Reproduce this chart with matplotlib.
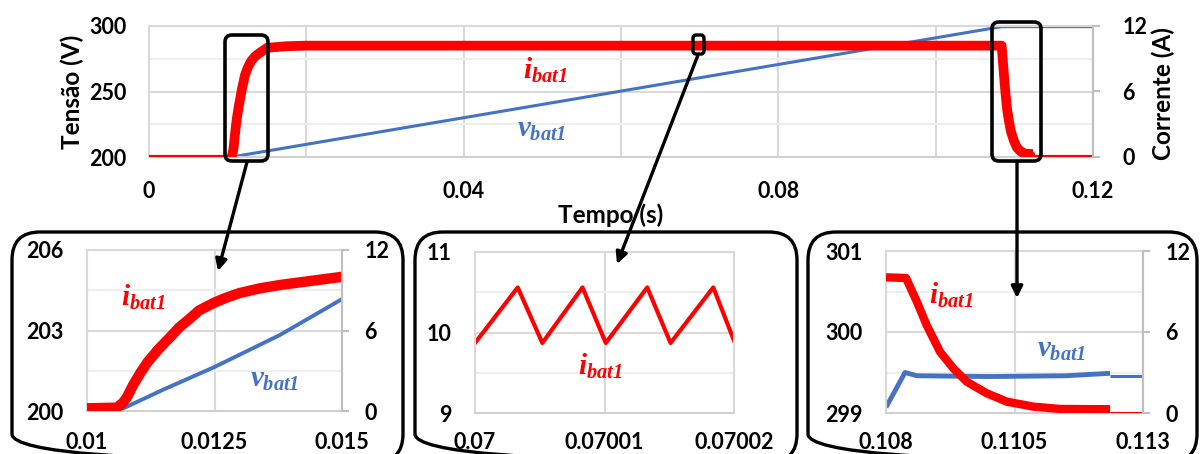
import matplotlib
matplotlib.use("Agg")
import matplotlib.pyplot as plt
from matplotlib.patches import FancyBboxPatch, FancyArrowPatch

plt.rcParams["font.family"] = ["Lato", "DejaVu Sans"]
plt.rcParams["font.weight"] = "bold"
plt.rcParams["mathtext.fontset"] = "custom"
plt.rcParams["mathtext.it"] = "Liberation Serif:italic:bold"
plt.rcParams["mathtext.rm"] = "Liberation Serif:italic:bold"
plt.rcParams["mathtext.bf"] = "Liberation Serif:italic:bold"

RED = "#FF0000"
BLUE = "#4472C4"
GRID = "#D9D9D9"
MINOR = "#EEEEEE"
AXIS = "#BFBFBF"
WEIGHT = "bold"
TICK_FS = 15.5
LABEL_FS = 17.5

# ---- main view: whole charging interval ----
t_i_main = [0, 0.0105, 0.01059, 0.0107, 0.01078, 0.0109, 0.01104, 0.01118, 0.0114,
            0.01163, 0.0118, 0.01202, 0.0122, 0.01251, 0.0127, 0.0130, 0.0134, 0.0138,
            0.0142, 0.0146, 0.015, 0.0175, 0.02,
            0.10839, 0.1086, 0.10879, 0.10905, 0.10931, 0.10957, 0.10996, 0.11035,
            0.11087, 0.11139, 0.11236, 0.11236, 0.12]
i_main = [0, 0, 0.25, 0.6, 1.0, 1.9, 2.8, 3.6, 4.6,
          5.5, 6.2, 6.9, 7.5, 8.1, 8.4, 8.8, 9.15, 9.4,
          9.6, 9.8, 10.0, 10.15, 10.2,
          10.2, 8.25, 6.52, 4.54, 3.31, 2.32, 1.46, 0.84,
          0.47, 0.30, 0.28, 0, 0]
t_v_main = [0, 0.0105, 0.1084, 0.12]
v_main = [200, 200, 299.5, 299.5]

# ---- zoom 1: start of charging ----
t_i_start = [0.01, 0.01059, 0.0107, 0.01078, 0.0109, 0.01104, 0.01118, 0.0114,
             0.01163, 0.0118, 0.01202, 0.0122, 0.01251, 0.0127, 0.0130, 0.0134, 0.0138,
             0.0142, 0.0146, 0.015]
i_start = [0.2, 0.25, 0.6, 1.0, 1.9, 2.8, 3.6, 4.6,
           5.5, 6.2, 6.9, 7.5, 8.1, 8.4, 8.8, 9.15, 9.4,
           9.6, 9.8, 10.0]
t_v_start = [0.01, 0.0106, 0.0115, 0.0125, 0.01378, 0.015]
v_start = [200, 200, 200.8, 201.64, 202.83, 204.17]

# ---- zoom 2: switching ripple ----
t_ripple = [0.07, 0.0700033, 0.0700052, 0.0700083, 0.0700101, 0.0700133,
            0.0700151, 0.0700184, 0.07002]
i_ripple = [9.87, 10.56, 9.87, 10.56, 9.87, 10.56, 9.87, 10.56, 9.9]

# ---- zoom 3: end of charging ----
t_i_end = [0.108, 0.10839, 0.1086, 0.10879, 0.10905, 0.10931, 0.10957, 0.10996,
           0.11035, 0.11087, 0.11139, 0.11236]
i_end = [10.05, 10.0, 8.25, 6.52, 4.54, 3.31, 2.32, 1.46,
         0.84, 0.47, 0.30, 0.28]
t_i_end_off = [0.11236, 0.113]
i_end_off = [0, 0]
t_v_end = [0.108, 0.10837, 0.1086, 0.1100, 0.1115, 0.11236]
v_end = [299.07, 299.5, 299.46, 299.45, 299.46, 299.49]
t_v_end_off = [0.11236, 0.113]
v_end_off = [299.46, 299.46]

W, H = 1200, 454
fig = plt.figure(figsize=(W / 100, H / 100), dpi=100)


def px_axes(x0, y0, x1, y1, **kw):
    return fig.add_axes([x0 / W, 1 - y1 / H, (x1 - x0) / W, (y1 - y0) / H], **kw)


def style(ax, xt, xtl, yt, ytl, ymin, xminor=None, xpad=15, ypad=16,
          right_color=AXIS):
    ax.set_xticks(xt)
    ax.set_xticklabels(xtl, fontweight=WEIGHT, fontsize=TICK_FS)
    ax.set_yticks(yt)
    ax.set_yticklabels(ytl, fontweight=WEIGHT, fontsize=TICK_FS)
    ax.set_yticks(ymin, minor=True)
    if xminor is not None:
        ax.set_xticks(xminor, minor=True)
    ax.grid(which="major", color=GRID, lw=1.5)
    ax.grid(which="minor", axis="y", color=MINOR, lw=1.5)
    if xminor is not None:
        ax.grid(which="minor", axis="x", color=GRID, lw=1.5)
    ax.tick_params(which="both", length=0)
    ax.tick_params(axis="x", pad=xpad)
    ax.tick_params(axis="y", pad=ypad)
    for s in ("left", "top"):
        ax.spines[s].set_color(GRID)
        ax.spines[s].set_linewidth(1.5)
    ax.spines["bottom"].set_color("#D0D0D0")
    ax.spines["bottom"].set_linewidth(1.5)
    ax.spines["right"].set_color(right_color)
    ax.spines["right"].set_linewidth(1.5)
    ax.set_axisbelow(True)


def right_axis(ax, pad=10):
    ax2 = ax.twinx()
    ax2.set_ylim(0, 12)
    ax2.set_yticks([0, 6, 12])
    ax2.set_yticklabels(["0", "6", "12"], fontweight=WEIGHT, fontsize=TICK_FS)
    ax2.tick_params(axis="y", direction="out", length=5, width=1.5, color=AXIS, pad=pad)
    for s in ("left", "top", "bottom"):
        ax2.spines[s].set_visible(False)
    ax2.spines["right"].set_color(AXIS)
    ax2.spines["right"].set_linewidth(1.5)
    return ax2


# main chart
ax = px_axes(149, 26, 1093, 157)
ax.set_xlim(0, 0.12)
ax.set_ylim(200, 300)
style(ax, [0, 0.04, 0.08, 0.12], ["0", "0.04", "0.08", "0.12"],
      [200, 250, 300], ["200", "250", "300"], [225, 275],
      xminor=[0.02, 0.06, 0.10], xpad=17, ypad=16)
ax.plot(t_v_main, v_main, color=BLUE, lw=2.2, solid_capstyle="butt")
ax2 = right_axis(ax, pad=16)
ax2.plot(t_i_main, i_main, color=RED, lw=3, solid_capstyle="butt")
n_on = len(t_i_main) - 2
ax2.plot(t_i_main[1:n_on], i_main[1:n_on], color=RED, lw=7, solid_capstyle="butt",
         solid_joinstyle="round")

# zoom 1
a1 = px_axes(87, 250, 342, 411)
a1.set_xlim(0.01, 0.015)
a1.set_ylim(200, 206)
style(a1, [0.01, 0.0125, 0.015], ["0.01", "0.0125", "0.015"],
      [200, 203, 206], ["200", "203", "206"], [201.5, 204.5], xpad=15, ypad=17)
a1.plot(t_v_start, v_start, color=BLUE, lw=2.8, solid_capstyle="butt",
        solid_joinstyle="round")
b1 = right_axis(a1, pad=11)
b1.plot(t_i_start, i_start, color=RED, lw=7.5, solid_capstyle="butt",
        solid_joinstyle="round")

# zoom 2
a2 = px_axes(475, 252, 734, 413)
a2.set_xlim(0.07, 0.07002)
a2.set_ylim(9, 11)
style(a2, [0.07, 0.07001, 0.07002], ["0.07", "0.07001", "0.07002"],
      [9, 10, 11], ["9", "10", "11"], [9.5, 10.5], xpad=14, ypad=17,
      right_color=GRID)
a2.plot(t_ripple, i_ripple, color=RED, lw=3)

# zoom 3
a3 = px_axes(886, 251, 1143, 413)
a3.set_xlim(0.108, 0.113)
a3.set_ylim(299, 301)
style(a3, [0.108, 0.1105, 0.113], ["0.108", "0.1105", "0.113"],
      [299, 300, 301], ["299", "300", "301"], [299.5, 300.5], xpad=14, ypad=17)
a3.plot(t_v_end, v_end, color=BLUE, lw=3.5, solid_capstyle="butt",
        solid_joinstyle="round")
a3.plot(t_v_end_off, v_end_off, color=BLUE, lw=2.2, solid_capstyle="butt")
b3 = right_axis(a3, pad=11)
b3.plot(t_i_end_off, i_end_off, color=RED, lw=2.2, solid_capstyle="butt")
b3.plot(t_i_end, i_end, color=RED, lw=6, solid_capstyle="butt", solid_joinstyle="round")

# overlay in pixel coordinates for frames, arrows and labels
ov = fig.add_axes([0, 0, 1, 1], zorder=10)
ov.set_xlim(0, W)
ov.set_ylim(H, 0)
ov.axis("off")
ov.patch.set_alpha(0)


def frame(x0, y0, x1, y1, r, lw):
    ov.add_patch(FancyBboxPatch((x0, y0), x1 - x0, y1 - y0,
                                boxstyle=f"round,pad=0,rounding_size={r}",
                                fc="none", ec="black", lw=lw))


frame(225, 35, 268, 161, 7, 2.6)
frame(693, 35, 704, 54, 3, 2.4)
frame(992, 22, 1041, 161, 7, 2.6)
frame(12, 232, 403, 462, 28, 2.4)
frame(415, 232, 797, 462, 28, 2.4)
frame(808, 232, 1197, 462, 28, 2.4)


def arrow(p, q):
    ov.add_patch(FancyArrowPatch(p, q, arrowstyle="-|>", mutation_scale=17,
                                 lw=2.4, color="black", shrinkA=0, shrinkB=0))


arrow((247, 162), (218, 271))
arrow((698, 55), (617, 264))
arrow((1017, 162), (1017, 298))

LBL = 21
ov.text(545, 70, r"$i_{bat1}$", color=RED, fontsize=LBL, ha="center", va="center")
ov.text(542, 130, r"$v_{bat1}$", color=BLUE, fontsize=LBL, ha="center", va="center")
ov.text(143, 297, r"$i_{bat1}$", color=RED, fontsize=LBL, ha="center", va="center")
ov.text(275, 380, r"$v_{bat1}$", color=BLUE, fontsize=LBL, ha="center", va="center")
ov.text(600, 366, r"$i_{bat1}$", color=RED, fontsize=LBL, ha="center", va="center")
ov.text(951, 295, r"$i_{bat1}$", color=RED, fontsize=LBL, ha="center", va="center")
ov.text(1062, 350, r"$v_{bat1}$", color=BLUE, fontsize=LBL, ha="center", va="center")

ov.text(72, 92, "Tensão (V)", rotation=90, fontsize=LABEL_FS, fontweight=WEIGHT,
        ha="center", va="center")
ov.text(1163, 94, "Corrente (A)", rotation=90, fontsize=LABEL_FS, fontweight=WEIGHT,
        ha="center", va="center")
ov.text(611, 215, "Tempo (s)", fontsize=LABEL_FS, fontweight=WEIGHT, ha="center",
        va="center")

fig.savefig("out.png", dpi=100)
